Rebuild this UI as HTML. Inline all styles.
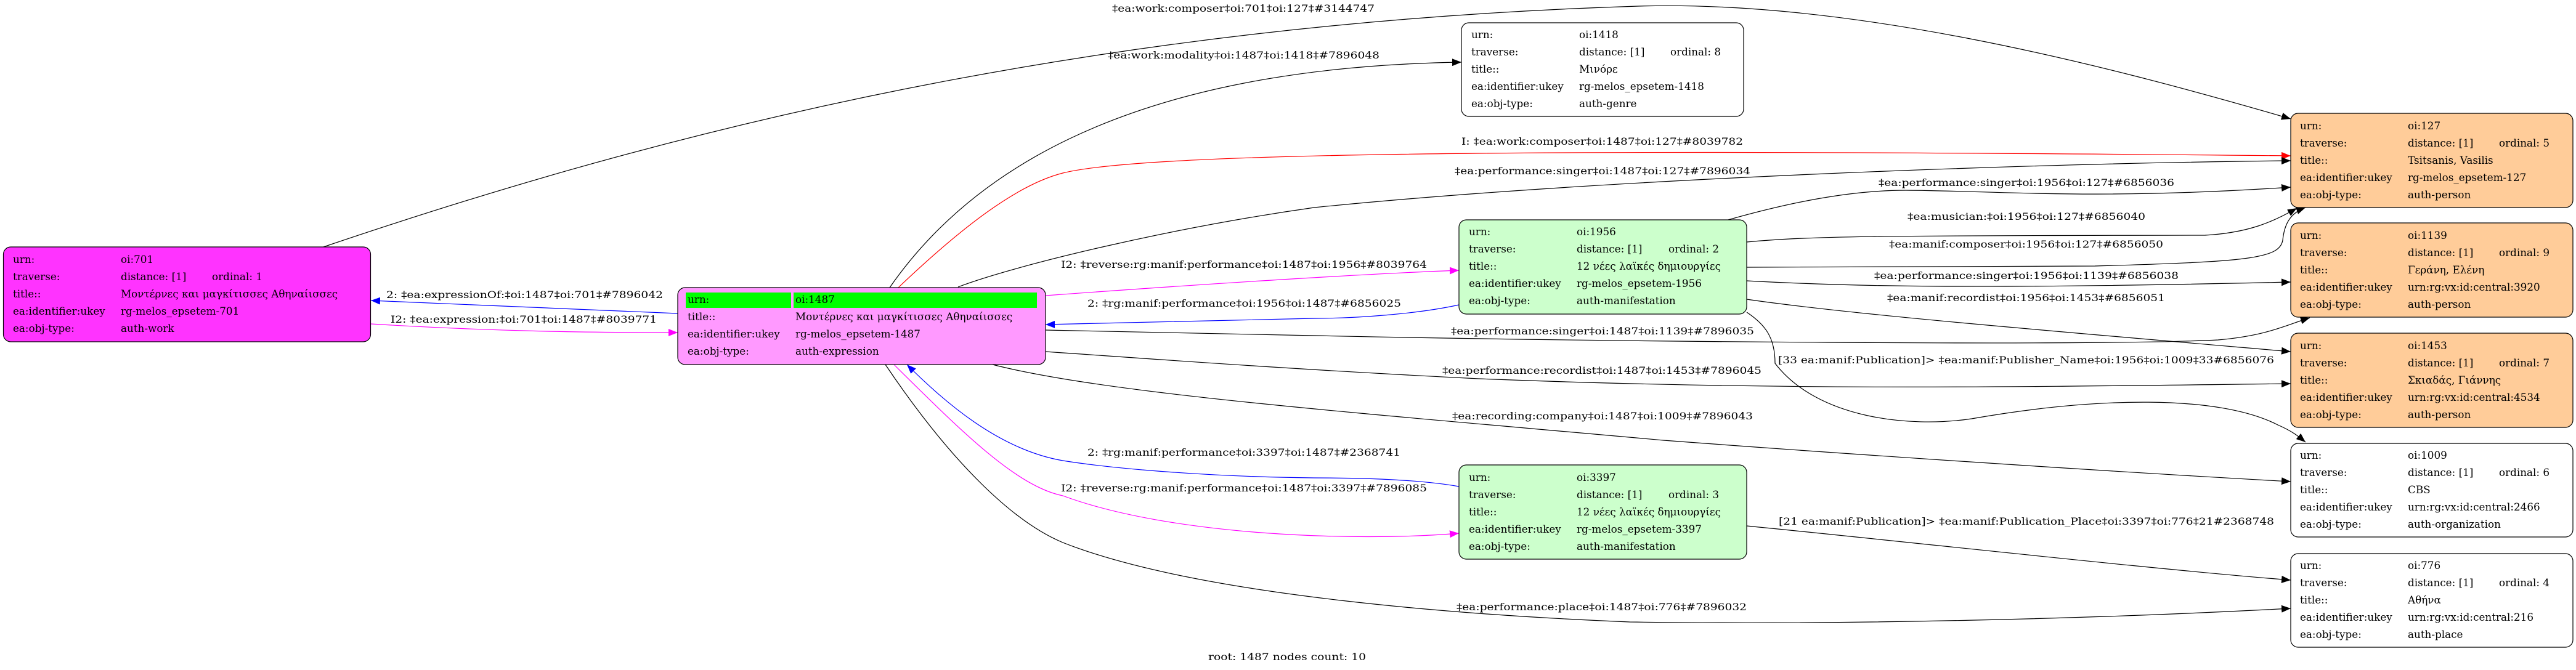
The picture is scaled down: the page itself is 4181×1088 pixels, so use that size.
<!DOCTYPE html>
<html><head><meta charset="utf-8"><style>
html,body{margin:0;padding:0;background:#fff;}
svg{display:block;}
text{font-family:"DejaVu Serif","Liberation Serif","Noto Serif CJK SC",serif;font-size:16px;fill:#000;}
.n text{font-size:16.8px;}
</style></head><body>
<svg width="4181" height="1088" viewBox="0 0 4181 1088" xmlns="http://www.w3.org/2000/svg">
<defs>
<marker id="ak" markerUnits="userSpaceOnUse" markerWidth="16" markerHeight="12" refX="15" refY="6" orient="auto"><path d="M0,0 L15,6 L0,12 Z" fill="#000"/></marker>
<marker id="ar" markerUnits="userSpaceOnUse" markerWidth="16" markerHeight="12" refX="15" refY="6" orient="auto"><path d="M0,0 L15,6 L0,12 Z" fill="#f00"/></marker>
<marker id="ab" markerUnits="userSpaceOnUse" markerWidth="16" markerHeight="12" refX="15" refY="6" orient="auto"><path d="M0,0 L15,6 L0,12 Z" fill="#00f"/></marker>
<marker id="am" markerUnits="userSpaceOnUse" markerWidth="16" markerHeight="12" refX="15" refY="6" orient="auto"><path d="M0,0 L15,6 L0,12 Z" fill="#f0f"/></marker>
</defs>
<g fill="none" stroke-width="1.2">
<path stroke="#000" marker-end="url(#ak)" d="M525,401 C1000,240 1700,40 2659,10 C3000,0 3400,100 3718,193"/>
<path stroke="#000" marker-end="url(#ak)" d="M1444,467 C1560,300 1800,110 2372,101"/>
<path stroke="#f00" marker-end="url(#ar)" d="M1458,467 C1560,370 1650,300 1725,281 C1850,250 2400,240 3718,253"/>
<path stroke="#000" marker-end="url(#ak)" d="M1555,466 C1650,430 1900,370 2133,337 C2600,290 3300,265 3718,261"/>
<path stroke="#f0f" marker-end="url(#am)" d="M1697,480 C1900,465 2200,445 2368,439"/>
<path stroke="#00f" marker-end="url(#ab)" d="M2368,495 C2300,510 2200,517 2133,517 C1950,520 1800,526 1697,527"/>
<path stroke="#000" marker-end="url(#ak)" d="M1697,536 L2133,545 C2600,555 3400,562 3600,552 C3680,545 3710,528 3749,516"/>
<path stroke="#000" marker-end="url(#ak)" d="M1697,571 C1900,585 2100,600 2400,615 C2900,635 3300,628 3718,623"/>
<path stroke="#000" marker-end="url(#ak)" d="M1611,592 C1800,640 2200,670 2700,715 C3100,745 3500,770 3718,782"/>
<path stroke="#00f" marker-end="url(#ab)" d="M2368,790 C2300,778 2200,776 2133,776 C1950,774 1800,760 1725,748 C1620,730 1530,650 1472,592"/>
<path stroke="#f0f" marker-end="url(#am)" d="M1451,592 C1560,700 1650,790 1725,805 C1900,870 2200,880 2368,866"/>
<path stroke="#000" marker-end="url(#ak)" d="M1437,592 C1550,760 1650,850 1725,881 C1950,970 2400,1000 2645,1010 C3000,1015 3400,1005 3718,988"/>
<path stroke="#000" marker-end="url(#ak)" d="M2805,357 C2900,330 3000,309 3093,309 C3250,310 3400,325 3718,304"/>
<path stroke="#000" marker-end="url(#ak)" d="M2835,393 C2950,382 3100,383 3579,382 C3650,378 3690,360 3728,338"/>
<path stroke="#000" marker-end="url(#ak)" d="M2835,434 L3400,432 C3650,425 3700,420 3705,390 C3708,360 3720,345 3742,337"/>
<path stroke="#000" marker-end="url(#ak)" d="M2835,456 C3000,465 3200,470 3718,458"/>
<path stroke="#000" marker-end="url(#ak)" d="M2835,486 C3000,510 3300,535 3718,571"/>
<path stroke="#000" marker-end="url(#ak)" d="M2835,507 C2865,527 2881,548 2881,590 C2950,680 3100,695 3200,680 C3400,645 3600,640 3697,690 C3720,700 3730,708 3742,718"/>
<path stroke="#000" marker-end="url(#ak)" d="M2835,854 C3100,880 3500,925 3718,942"/>
<path stroke="#00f" marker-end="url(#ab)" d="M1100,509 L602,488"/>
<path stroke="#f0f" marker-end="url(#am)" d="M602,526 C800,538 950,540 1100,540"/>
</g>

<g>
<text x="627" y="484" textLength="449" lengthAdjust="spacingAndGlyphs">2: ‡ea:expressionOf:‡oi:1487‡oi:701‡#7896042</text>
<text x="634" y="524" textLength="432" lengthAdjust="spacingAndGlyphs">I2: ‡ea:expression:‡oi:701‡oi:1487‡#8039771</text>
<text x="1805" y="19" textLength="426" lengthAdjust="spacingAndGlyphs">‡ea:work:composer‡oi:701‡oi:127‡#3144747</text>
<text x="1798" y="95" textLength="441" lengthAdjust="spacingAndGlyphs">‡ea:work:modality‡oi:1487‡oi:1418‡#7896048</text>
<text x="2372" y="235" textLength="457" lengthAdjust="spacingAndGlyphs">I: ‡ea:work:composer‡oi:1487‡oi:127‡#8039782</text>
<text x="2361" y="283" textLength="480" lengthAdjust="spacingAndGlyphs">‡ea:performance:singer‡oi:1487‡oi:127‡#7896034</text>
<text x="1722" y="435" textLength="594" lengthAdjust="spacingAndGlyphs">I2: ‡reverse:rg:manif:performance‡oi:1487‡oi:1956‡#8039764</text>
<text x="1765" y="498" textLength="509" lengthAdjust="spacingAndGlyphs">2: ‡rg:manif:performance‡oi:1956‡oi:1487‡#6856025</text>
<text x="2355" y="543" textLength="492" lengthAdjust="spacingAndGlyphs">‡ea:performance:singer‡oi:1487‡oi:1139‡#7896035</text>
<text x="2341" y="607" textLength="518" lengthAdjust="spacingAndGlyphs">‡ea:performance:recordist‡oi:1487‡oi:1453‡#7896045</text>
<text x="2357" y="681" textLength="488" lengthAdjust="spacingAndGlyphs">‡ea:recording:company‡oi:1487‡oi:1009‡#7896043</text>
<text x="1765" y="740" textLength="508" lengthAdjust="spacingAndGlyphs">2: ‡rg:manif:performance‡oi:3397‡oi:1487‡#2368741</text>
<text x="1722" y="798" textLength="594" lengthAdjust="spacingAndGlyphs">I2: ‡reverse:rg:manif:performance‡oi:1487‡oi:3397‡#7896085</text>
<text x="2364" y="991" textLength="471" lengthAdjust="spacingAndGlyphs">‡ea:performance:place‡oi:1487‡oi:776‡#7896032</text>
<text x="3049" y="302" textLength="480" lengthAdjust="spacingAndGlyphs">‡ea:performance:singer‡oi:1956‡oi:127‡#6856036</text>
<text x="3096" y="357" textLength="386" lengthAdjust="spacingAndGlyphs">‡ea:musician:‡oi:1956‡oi:127‡#6856040</text>
<text x="3066" y="402" textLength="445" lengthAdjust="spacingAndGlyphs">‡ea:manif:composer‡oi:1956‡oi:127‡#6856050</text>
<text x="3042" y="453" textLength="494" lengthAdjust="spacingAndGlyphs">‡ea:performance:singer‡oi:1956‡oi:1139‡#6856038</text>
<text x="3063" y="489" textLength="451" lengthAdjust="spacingAndGlyphs">‡ea:manif:recordist‡oi:1956‡oi:1453‡#6856051</text>
<text x="2886" y="590" textLength="805" lengthAdjust="spacingAndGlyphs">[33 ea:manif:Publication]&gt; ‡ea:manif:Publisher_Name‡oi:1956‡oi:1009‡33#6856076</text>
<text x="2887" y="852" textLength="804" lengthAdjust="spacingAndGlyphs">[21 ea:manif:Publication]&gt; ‡ea:manif:Publication_Place‡oi:3397‡oi:776‡21#2368748</text>
<text x="1961" y="1072" textLength="256" lengthAdjust="spacingAndGlyphs">root: 1487 nodes count: 10</text>
</g>

<g class="n">
<rect x="5.5" y="401" width="596" height="154" rx="12" fill="#ff33ff" stroke="#000" stroke-width="1.2"/>
<text x="21" y="427">urn:</text><text x="196" y="427">oi:701</text>
<text x="21" y="455">traverse:</text><text x="196" y="455">distance: [1]</text><text x="344" y="455">ordinal: 1</text>
<text x="21" y="483">title::</text><text x="196" y="483">Μοντέρνες και μαγκίτισσες Αθηναίισσες</text>
<text x="21" y="511">ea:identifier:ukey</text><text x="196" y="511">rg-melos_epsetem-701</text>
<text x="21" y="539">ea:obj-type:</text><text x="196" y="539">auth-work</text>

<rect x="1100" y="467" width="597" height="125" rx="12" fill="#ff99ff" stroke="#000" stroke-width="1.2"/>
<rect x="1113" y="475" width="171" height="25" fill="#00ff00"/>
<rect x="1288" y="475" width="395" height="25" fill="#00ff00"/>
<text x="1116" y="492">urn:</text><text x="1291" y="492">oi:1487</text>
<text x="1116" y="520">title::</text><text x="1291" y="520">Μοντέρνες και μαγκίτισσες Αθηναίισσες</text>
<text x="1116" y="548">ea:identifier:ukey</text><text x="1291" y="548">rg-melos_epsetem-1487</text>
<text x="1116" y="576">ea:obj-type:</text><text x="1291" y="576">auth-expression</text>

<rect x="2372" y="37" width="458" height="152" rx="12" fill="#fff" stroke="#000" stroke-width="1.2"/>
<text x="2388" y="62">urn:</text><text x="2563" y="62">oi:1418</text>
<text x="2388" y="90">traverse:</text><text x="2563" y="90">distance: [1]</text><text x="2711" y="90">ordinal: 8</text>
<text x="2388" y="118">title::</text><text x="2563" y="118">Μινόρε</text>
<text x="2388" y="146">ea:identifier:ukey</text><text x="2563" y="146">rg-melos_epsetem-1418</text>
<text x="2388" y="174">ea:obj-type:</text><text x="2563" y="174">auth-genre</text>

<rect x="2368" y="357" width="467" height="153" rx="12" fill="#ccffcc" stroke="#000" stroke-width="1.2"/>
<text x="2384" y="382">urn:</text><text x="2559" y="382">oi:1956</text>
<text x="2384" y="410">traverse:</text><text x="2559" y="410">distance: [1]</text><text x="2708" y="410">ordinal: 2</text>
<text x="2384" y="438">title::</text><text x="2559" y="438">12 νέες λαϊκές δημιουργίες</text>
<text x="2384" y="466">ea:identifier:ukey</text><text x="2559" y="466">rg-melos_epsetem-1956</text>
<text x="2384" y="494">ea:obj-type:</text><text x="2559" y="494">auth-manifestation</text>

<rect x="2368" y="755" width="467" height="153" rx="12" fill="#ccffcc" stroke="#000" stroke-width="1.2"/>
<text x="2384" y="781">urn:</text><text x="2559" y="781">oi:3397</text>
<text x="2384" y="809">traverse:</text><text x="2559" y="809">distance: [1]</text><text x="2708" y="809">ordinal: 3</text>
<text x="2384" y="837">title::</text><text x="2559" y="837">12 νέες λαϊκές δημιουργίες</text>
<text x="2384" y="865">ea:identifier:ukey</text><text x="2559" y="865">rg-melos_epsetem-3397</text>
<text x="2384" y="893">ea:obj-type:</text><text x="2559" y="893">auth-manifestation</text>

<rect x="3718" y="184" width="458" height="153" rx="12" fill="#ffcc99" stroke="#000" stroke-width="1.2"/>
<text x="3733" y="210">urn:</text><text x="3908" y="210">oi:127</text>
<text x="3733" y="238">traverse:</text><text x="3908" y="238">distance: [1]</text><text x="4056" y="238">ordinal: 5</text>
<text x="3733" y="266">title::</text><text x="3908" y="266">Tsitsanis, Vasilis</text>
<text x="3733" y="294">ea:identifier:ukey</text><text x="3908" y="294">rg-melos_epsetem-127</text>
<text x="3733" y="322">ea:obj-type:</text><text x="3908" y="322">auth-person</text>

<rect x="3718" y="362" width="458" height="153" rx="12" fill="#ffcc99" stroke="#000" stroke-width="1.2"/>
<text x="3733" y="388">urn:</text><text x="3908" y="388">oi:1139</text>
<text x="3733" y="416">traverse:</text><text x="3908" y="416">distance: [1]</text><text x="4056" y="416">ordinal: 9</text>
<text x="3733" y="444">title::</text><text x="3908" y="444">Γεράνη, Ελένη</text>
<text x="3733" y="472">ea:identifier:ukey</text><text x="3908" y="472">urn:rg:vx:id:central:3920</text>
<text x="3733" y="500">ea:obj-type:</text><text x="3908" y="500">auth-person</text>

<rect x="3718" y="541" width="458" height="153" rx="12" fill="#ffcc99" stroke="#000" stroke-width="1.2"/>
<text x="3733" y="567">urn:</text><text x="3908" y="567">oi:1453</text>
<text x="3733" y="595">traverse:</text><text x="3908" y="595">distance: [1]</text><text x="4056" y="595">ordinal: 7</text>
<text x="3733" y="623">title::</text><text x="3908" y="623">Σκιαδάς, Γιάννης</text>
<text x="3733" y="651">ea:identifier:ukey</text><text x="3908" y="651">urn:rg:vx:id:central:4534</text>
<text x="3733" y="679">ea:obj-type:</text><text x="3908" y="679">auth-person</text>

<rect x="3718" y="720" width="458" height="152" rx="12" fill="#fff" stroke="#000" stroke-width="1.2"/>
<text x="3733" y="745">urn:</text><text x="3908" y="745">oi:1009</text>
<text x="3733" y="773">traverse:</text><text x="3908" y="773">distance: [1]</text><text x="4056" y="773">ordinal: 6</text>
<text x="3733" y="801">title::</text><text x="3908" y="801">CBS</text>
<text x="3733" y="829">ea:identifier:ukey</text><text x="3908" y="829">urn:rg:vx:id:central:2466</text>
<text x="3733" y="857">ea:obj-type:</text><text x="3908" y="857">auth-organization</text>

<rect x="3718" y="899" width="458" height="152" rx="12" fill="#fff" stroke="#000" stroke-width="1.2"/>
<text x="3733" y="924">urn:</text><text x="3908" y="924">oi:776</text>
<text x="3733" y="952">traverse:</text><text x="3908" y="952">distance: [1]</text><text x="4056" y="952">ordinal: 4</text>
<text x="3733" y="980">title::</text><text x="3908" y="980">Αθήνα</text>
<text x="3733" y="1008">ea:identifier:ukey</text><text x="3908" y="1008">urn:rg:vx:id:central:216</text>
<text x="3733" y="1036">ea:obj-type:</text><text x="3908" y="1036">auth-place</text>
</g>
</svg>
</body></html>
